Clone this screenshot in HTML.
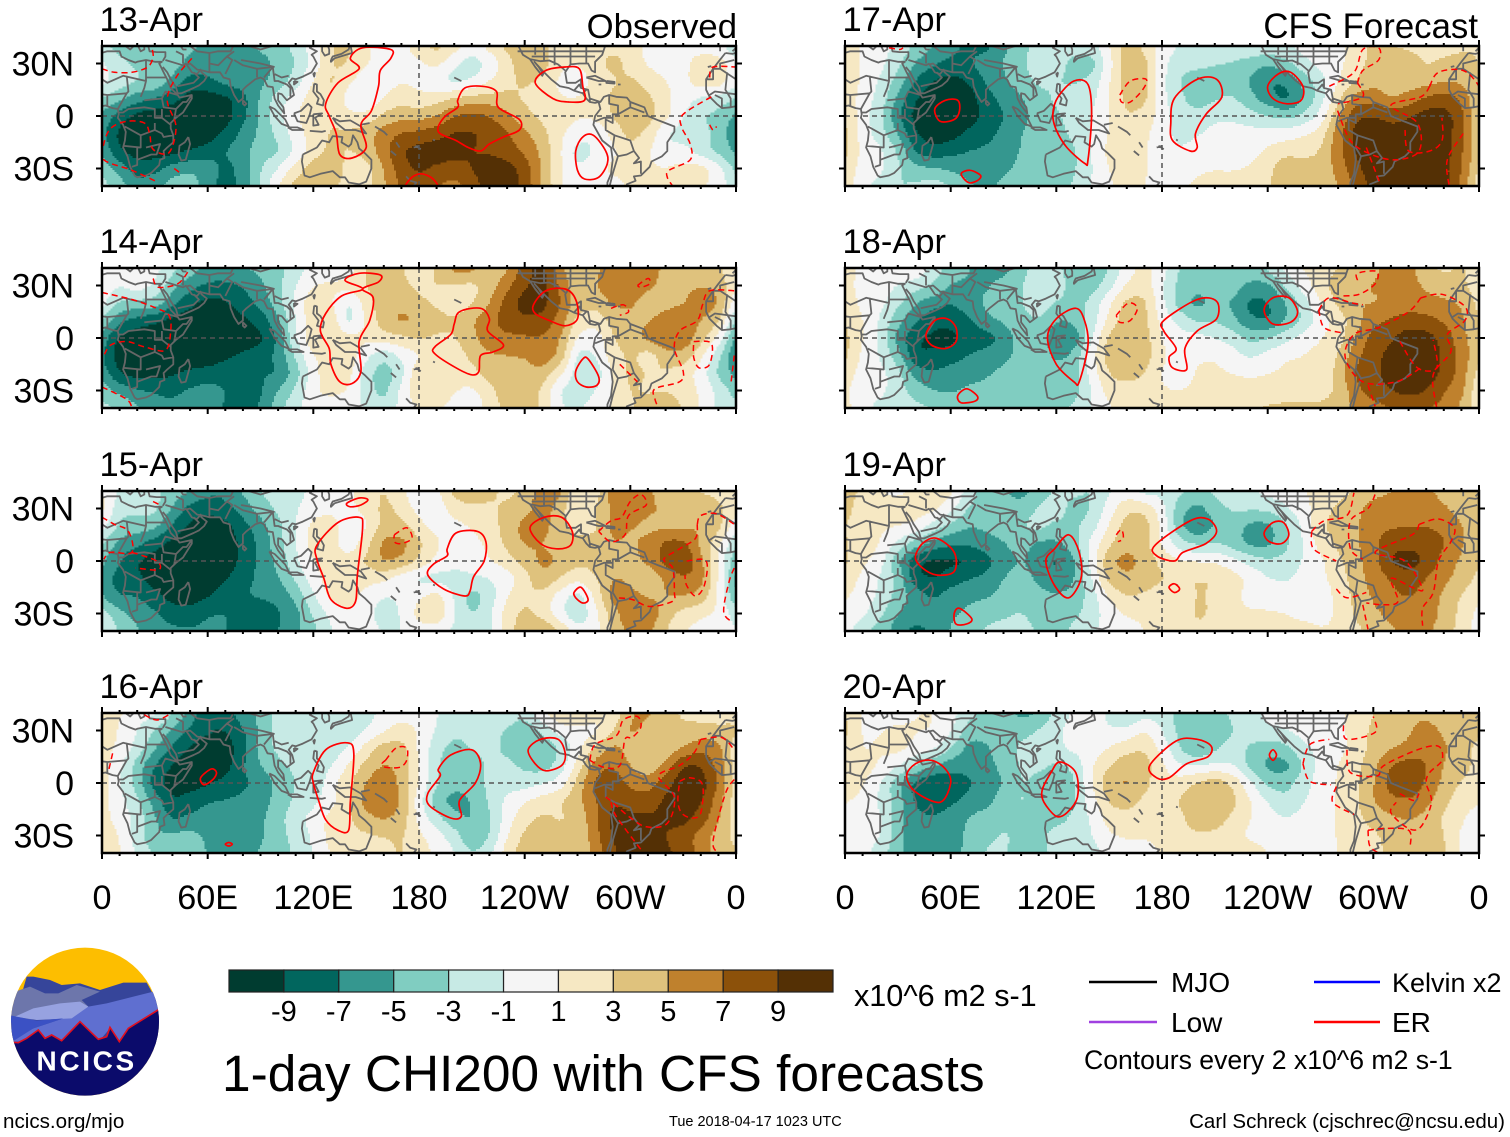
<!DOCTYPE html>
<html lang="en">
<head>
<meta charset="utf-8">
<title>1-day CHI200 with CFS forecasts</title>
<style>
html,body{margin:0;padding:0;background:#fff;}
svg{display:block;}
text{font-family:"Liberation Sans",Arial,sans-serif;fill:#000;}
</style>
</head>
<body>
<svg id="chart" xmlns="http://www.w3.org/2000/svg" width="1510" height="1137" viewBox="0 0 1510 1137">
<defs>
<clipPath id="logo-clip"><circle cx="255" cy="245" r="222"/></clipPath>
</defs>
<rect x="0" y="0" width="1510" height="1137" fill="#fff"/>
<g id="panels"></g>
<text x="737" y="38" font-size="34.7" text-anchor="end">Observed</text>
<text x="1478" y="38" font-size="34.8" text-anchor="end">CFS Forecast</text>
<g id="colorbar"></g>
<text x="854" y="1006" font-size="30.6">x10^6 m2 s-1</text>
<text x="222" y="1091" font-size="51.4">1-day CHI200 with CFS forecasts</text>
<g>
<line x1="1089" y1="982" x2="1157" y2="982" stroke="#000" stroke-width="2.5"/>
<text x="1171" y="992" font-size="28">MJO</text>
<line x1="1314" y1="982" x2="1380" y2="982" stroke="#0000ff" stroke-width="2.5"/>
<text x="1392" y="992" font-size="27">Kelvin x2</text>
<line x1="1089" y1="1022" x2="1157" y2="1022" stroke="#a040e0" stroke-width="2.5"/>
<text x="1171" y="1032" font-size="28">Low</text>
<line x1="1314" y1="1022" x2="1380" y2="1022" stroke="#ff0000" stroke-width="2.5"/>
<text x="1392" y="1032" font-size="28">ER</text>
<text x="1084" y="1069" font-size="26.6">Contours every 2 x10^6 m2 s-1</text>
</g>
<g transform="translate(0,940) scale(0.33333)">
<g clip-path="url(#logo-clip)">
<rect x="20" y="10" width="480" height="480" fill="#FDBE00"/>
<polygon fill="#36459a" points="80,110 100,110 150,120 185,135 240,130 300,150 370,128 440,128 480,200 480,320 20,320"/>
<polygon fill="#6d76ab" points="25,230 45,155 90,140 135,160 175,160 230,135 300,155 245,180 265,200 200,235 25,240"/>
<polygon fill="#5f6fd0" points="265,200 320,190 400,170 460,155 490,200 470,210 390,265 360,305 330,265 300,300 240,245 185,305 40,305 50,290 100,265 190,235"/>
<polygon fill="#97a2e0" points="45,230 100,205 180,190 240,185 265,200 215,235 110,240"/>
<polygon fill="#3b51c4" points="25,225 110,242 190,235 100,265 45,300 25,305"/>
<polygon fill="#0b0b6b" points="25,308 55,308 80,295 115,270 135,295 155,285 185,302 240,245 295,298 320,290 330,262 358,305 385,265 490,200 490,480 20,480"/>
<polyline fill="none" stroke="#e01020" stroke-width="5" points="25,306 55,308 80,295 115,270 135,295 155,285 185,302 240,245 295,298 320,290 330,262 358,305 385,265 490,200"/>
</g>
<text x="260" y="392" font-size="84" font-weight="bold" text-anchor="middle" letter-spacing="8" style="fill:#fff">NCICS</text>
</g>
<text x="3" y="1128" font-size="20.6">ncics.org/mjo</text>
<text x="669" y="1126" font-size="14.5">Tue 2018-04-17 1023 UTC</text>
<text x="1505" y="1128" font-size="20.5" text-anchor="end">Carl Schreck (cjschrec@ncsu.edu)</text>
</svg>
<script>
const bandLevels=[-9,-7,-5,-3,-1,1,3,5,7,9];
const bandColors=["#003c30","#01665e","#35978f","#80cdc1","#c7eae5","#f5f5f5","#f6e8c3","#dfc27d","#bf812d","#8c510a","#543005"];
const barLabels=["-9","-7","-5","-3","-1","1","3","5","7","9"];
const lonTicks=[0,60,120,180,240,300,360];
const lonTickLabels=["0","60E","120E","180","120W","60W","0"];
const latTicks=[30,0,-30];
const latTickLabels=["30N","0","30S"];
const dayLabels=["13-Apr","14-Apr","15-Apr","16-Apr","17-Apr","18-Apr","19-Apr","20-Apr"];

/* CHI200 anomaly: rows 40N..40S every 10 deg, columns 0..350E every 10 deg */
const chi13Apr=[
[-2,-4,-4,-4,-4,-4,-5,-6,-5,-4,-3,-2,0,3,3,1,0,0,2,4,2,0,2,3,5,3,1,1,2,2,2,0,0,0,0,-1],
[-1,-2,-3,-3,-3,-5,-5,-4,-5,-6,-4,-3,-1,3,3,1,0,0,0,2,-1,-3,-1,1,5,4,1,1,2,4,2,0,0,0,2,3],
[0,-1,-2,-1,-5,-8,-7,-5,-5,-5,-4,-2,1,4,1,-1,0,1,0,-1,-3,-1,1,2,3,2,0,-1,1,2,3,2,1,0,3,3],
[-3,-4,-6,-7,-8,-10,-10,-10,-8,-4,-1,0,2,3,-1,-2,1,2,1,2,3,3,3,3,2,1,1,1,2,3,4,3,1,0,-2,-2],
[-5,-8,-10,-10,-10,-10,-10,-10,-7,-4,-1,1,2,3,1,1,3,4,3,4,7,8,7,5,3,2,2,1,1,3,4,4,2,-1,-3,-3],
[-6,-10,-10,-10,-10,-10,-10,-8,-6,-4,-2,0,2,3,3,4,6,7,7,8,9,9,8,7,5,3,1,0,-1,1,4,2,-2,-2,-1,-3],
[-5,-9,-10,-10,-10,-9,-8,-6,-5,-3,-4,-1,1,3,2,3,6,9,10,10,10,8,8,7,6,4,1,-3,-1,0,2,1,-1,0,-3,-4],
[-3,-5,-8,-7,-5,-4,-4,-8,-6,-2,-1,2,4,6,1,1,4,8,9,8,7,9,10,10,8,4,1,-1,1,2,1,1,1,2,3,1],
[-2,-3,-6,-5,-3,-3,-6,-8,-6,-2,1,4,4,3,1,2,4,7,8,6,5,7,10,10,8,4,1,-1,-1,0,1,2,1,1,1,0]];
const chi14Apr=[
[0,0,1,0,-2,-3,-5,-5,-4,-4,-3,-2,0,-1,-1,3,4,3,0,3,6,6,3,3,8,10,5,1,4,6,6,5,4,4,4,3],
[0,-1,1,-1,-4,-6,-7,-7,-7,-5,-3,-1,1,2,2,3,4,3,2,3,2,1,3,6,8,10,6,2,5,6,7,5,4,4,4,5],
[-1,-3,-3,-2,-6,-8,-10,-9,-7,-6,-3,0,3,1,-3,2,4,4,2,2,0,2,4,8,10,10,7,3,3,5,5,2,4,4,6,6],
[-4,-6,-8,-9,-10,-10,-10,-10,-9,-8,-5,-1,2,3,-4,1,4,6,5,4,3,5,6,8,8,8,6,1,1,3,4,4,5,6,4,4],
[-6,-10,-10,-10,-10,-10,-10,-10,-10,-10,-7,0,3,3,2,2,2,2,3,2,2,4,6,6,6,6,5,0,-1,3,4,6,8,7,3,1],
[-7,-10,-10,-10,-10,-10,-10,-9,-8,-7,-6,-2,1,1,2,-1,-3,-1,0,1,1,3,4,4,4,7,5,-3,-1,2,3,-1,3,4,1,-2],
[-5,-10,-10,-10,-9,-8,-8,-7,-7,-6,-8,-4,0,3,2,-2,-5,-2,4,2,1,2,4,5,3,4,1,-2,-3,1,4,3,3,1,0,-4],
[-3,-5,-6,-6,-7,-6,-5,-6,-9,-7,-4,-2,1,2,1,-2,-4,0,3,2,1,0,1,5,5,2,-2,-2,-1,1,3,1,2,2,1,-1],
[-2,-2,-4,-6,-6,-5,-4,-7,-9,-6,-3,-1,0,-1,-1,0,-3,0,1,1,0,0,1,3,5,2,-1,-1,0,1,2,5,5,2,1,-2]];
const chi15Apr=[
[1,-1,-3,-2,-3,-4,-6,-6,-4,-2,-2,-2,0,0,0,2,3,1,-1,0,4,4,3,2,2,7,6,0,1,6,7,5,2,3,2,2],
[2,-3,-2,-1,-5,-8,-8,-7,-6,-3,-2,-1,0,0,1,1,4,2,0,-1,2,2,2,3,3,6,3,-1,3,5,7,5,5,4,4,3],
[0,-3,-3,-3,-7,-9,-10,-10,-7,-6,-3,-1,2,3,-2,0,3,3,1,0,0,1,2,3,6,6,3,2,1,6,4,3,3,3,5,4],
[-3,-6,-6,-8,-10,-10,-10,-10,-8,-6,-3,-1,2,2,-2,2,6,6,3,1,0,0,1,3,5,4,3,3,3,5,4,5,8,8,3,1],
[-5,-6,-9,-10,-10,-10,-10,-10,-8,-6,-4,-1,1,2,2,3,6,5,3,1,0,0,1,2,3,6,5,3,3,4,4,5,8,10,5,1],
[-6,-8,-8,-10,-10,-10,-10,-9,-7,-6,-5,-2,0,2,2,1,1,-2,-3,-3,-2,-1,-1,-1,1,5,2,1,2,5,4,1,4,6,6,1],
[-6,-7,-6,-8,-10,-10,-9,-7,-6,-6,-6,-4,-1,2,2,0,-1,0,1,3,-1,-5,-2,1,3,2,0,-3,1,7,5,4,5,5,4,1],
[-1,-4,-5,-6,-7,-8,-6,-6,-8,-8,-7,-6,-2,-1,1,0,-3,-1,2,4,-1,-3,-1,2,3,1,-1,-4,0,3,7,7,3,1,1,1],
[0,-3,-4,-6,-6,-6,-6,-6,-8,-9,-6,-5,-3,-1,1,0,-1,-1,0,-1,-1,-3,-2,2,4,6,3,0,0,3,5,5,2,1,0,-1]];
const chi16Apr=[
[2,1,0,0,-2,-5,-9,-7,-5,-4,-2,0,-2,-2,-2,-2,0,0,0,-1,-1,-2,0,-1,-2,1,3,3,2,0,5,5,3,2,2,1],
[4,0,-1,-3,-5,-7,-8,-9,-7,-4,-2,-1,-2,-3,-3,-1,0,2,1,-1,-2,-2,-2,-3,-6,-2,0,0,-1,2,6,4,3,3,3,3],
[0,1,-1,-4,-7,-9,-10,-10,-8,-3,-2,-1,-2,-2,-1,2,4,4,0,-2,-4,-2,-2,-3,-3,-5,-3,0,3,6,3,2,2,4,6,6],
[1,0,-4,-7,-9,-10,-10,-10,-6,-4,-3,-2,-3,-1,1,3,5,4,1,-3,-4,-4,-2,-2,-3,-4,-2,1,6,7,4,2,5,10,9,6],
[1,-1,-3,-9,-10,-10,-9,-8,-7,-7,-4,-2,-3,1,2,5,6,4,1,-2,-4,-3,-2,-2,-2,-1,-1,3,8,8,6,5,8,10,10,7],
[1,0,-2,-5,-9,-7,-6,-6,-6,-5,-4,-2,-2,0,2,6,7,5,-1,-5,-6,-5,-2,0,1,2,3,4,6,9,7,7,9,10,9,5],
[1,0,-1,-4,-8,-6,-6,-6,-6,-5,-3,-1,0,2,2,4,5,4,0,-2,-4,-5,-3,0,2,3,2,2,6,10,9,9,9,10,8,5],
[2,1,-2,-5,-4,-3,-5,-6,-6,-5,-3,-2,-1,2,2,2,2,3,1,0,-1,-6,-3,1,3,4,3,2,6,9,10,9,8,7,5,3],
[3,1,-1,-3,-2,-2,-5,-6,-5,-4,-4,-2,-1,1,2,2,2,3,2,0,0,-3,-1,2,4,4,3,2,5,8,10,10,9,8,6,3]];
const chi17Apr=[
[3,0,0,-1,-3,-4,-6,-7,-8,-5,-3,-2,-2,-1,-2,1,4,2,0,-1,-1,0,-1,0,-1,-1,0,0,0,2,3,2,2,2,2,2],
[3,0,0,-2,-5,-6,-7,-6,-5,-4,-3,-1,-1,-4,-5,0,4,4,-1,-2,-2,-3,-3,-4,-5,-3,-1,0,0,2,3,5,4,2,3,3],
[3,0,-1,-3,-7,-9,-10,-9,-6,-5,-3,-2,-3,-3,-2,1,4,4,-1,-3,-4,-3,-3,-5,-7,-7,-4,-2,1,2,4,3,3,3,4,4],
[1,0,-1,-5,-9,-10,-10,-10,-7,-6,-5,-3,-2,-1,-2,1,3,4,-1,-2,-4,-3,-2,-4,-6,-9,-5,-2,2,6,6,3,5,7,8,7],
[2,0,-2,-7,-10,-10,-10,-10,-8,-7,-5,-4,-3,-2,-1,1,3,2,0,-2,-2,-1,-1,-2,-2,-3,-2,-1,4,9,9,8,9,10,10,8],
[2,0,-2,-4,-9,-10,-10,-8,-7,-6,-4,-4,-3,-2,-1,1,2,1,0,-2,-1,0,0,0,0,0,1,1,6,10,10,9,9,10,10,7],
[3,0,0,-2,-8,-8,-7,-6,-6,-6,-4,-4,-4,-3,-1,2,2,1,0,-1,0,0,0,0,1,2,2,2,6,9,10,10,10,10,10,7],
[1,0,0,-2,-4,-4,-5,-6,-6,-5,-4,-4,-4,-3,-1,1,2,1,0,0,1,1,1,1,2,5,3,3,5,8,10,10,10,10,9,7],
[1,0,-2,-3,-2,-1,-2,-4,-5,-4,-2,-4,-4,-2,-1,1,1,1,0,1,1,1,1,1,2,4,3,3,4,7,9,10,10,10,10,6]];
const chi18Apr=[
[2,0,0,0,2,-2,-3,-4,-6,-6,-3,-2,-2,-4,-4,-3,0,2,0,-3,-4,-3,-4,-3,-2,0,1,2,2,4,4,5,6,2,2,3],
[1,0,0,-1,-2,-2,-5,-5,-5,-3,-3,0,-1,-4,-4,-2,1,2,-1,-3,-4,-2,-3,-5,-6,-2,0,2,4,4,5,4,6,4,3,3],
[2,0,0,-2,-5,-6,-7,-5,-4,-3,-3,-1,-3,-3,-2,1,4,4,-1,-4,-7,-4,-5,-8,-7,-5,-2,1,3,5,4,4,5,5,5,5],
[2,1,-1,-4,-6,-8,-8,-7,-4,-4,-3,-2,-5,-4,-2,1,4,3,0,-1,-3,-2,-4,-7,-8,-5,-3,0,1,3,6,7,8,7,6,5],
[3,1,-1,-6,-9,-9,-10,-8,-9,-7,-3,-3,-7,-8,-1,4,4,4,0,0,0,-1,-1,-3,-2,-1,0,1,1,5,8,8,10,10,8,5],
[3,0,-1,-3,-10,-8,-8,-6,-5,-5,-4,-3,-5,-4,1,4,4,4,1,0,1,1,0,-2,0,1,1,2,2,6,8,9,10,10,8,6],
[1,0,0,-1,-6,-6,-5,-5,-5,-4,-3,-3,-4,-4,0,3,4,3,0,0,1,1,1,1,1,1,1,0,3,8,8,9,10,10,8,6],
[0,0,0,-2,-3,-5,-5,-4,-4,-3,-3,-4,-4,-4,-1,2,1,1,1,1,1,2,1,1,1,2,2,2,2,6,8,9,10,9,6,6],
[1,0,-2,-2,-2,-2,-3,-4,-4,-3,-3,-3,-3,-2,-1,1,1,1,1,1,1,1,1,3,3,3,3,3,3,5,5,6,6,6,6,4]];
const chi19Apr=[
[4,2,1,0,1,2,2,-2,-4,-4,-6,-4,-2,-2,-3,-1,0,-3,-1,-2,-3,-2,-1,-1,0,0,1,1,2,2,4,4,5,5,3,2],
[4,1,1,2,2,2,0,-3,-3,-4,-4,-2,-1,-4,-3,0,3,3,0,-4,-6,-3,-2,-2,-2,-1,0,2,3,4,6,5,6,7,5,3],
[2,1,1,1,1,-2,-3,-5,-4,-3,-2,-1,-3,-3,-2,1,4,4,1,-5,-8,-5,-3,-6,-6,-3,-1,3,3,4,6,6,6,6,6,5],
[2,3,1,-1,-3,-5,-6,-6,-5,-5,-3,-6,-5,-3,0,2,4,3,0,-2,-3,-2,-4,-6,-6,-3,-1,2,3,4,6,8,8,8,7,5],
[3,1,0,-5,-10,-10,-10,-10,-8,-6,-4,-6,-8,-6,0,5,6,4,2,1,1,1,0,-1,-2,-2,-1,0,2,4,5,10,10,9,5,4],
[2,0,-1,-2,-9,-9,-7,-6,-6,-4,-3,-5,-6,-5,-1,4,4,4,3,3,3,3,2,1,-1,-1,0,1,1,4,5,6,8,6,5,4],
[1,0,-1,-3,-5,-7,-5,-5,-5,-4,-3,-4,-4,-4,-2,1,3,2,1,0,3,2,1,0,0,0,-2,0,1,3,5,6,7,5,4,2],
[0,0,-2,-5,-5,-6,-5,-4,-3,-3,-2,-4,-4,-3,-2,0,1,1,1,1,4,2,1,1,1,1,0,0,1,3,4,5,6,6,4,2],
[0,-3,-3,-6,-8,-6,-4,-3,-2,-2,-1,-3,-3,-2,-1,0,0,1,1,1,2,2,2,2,2,2,2,1,1,2,3,4,5,5,3,2]];
const chi20Apr=[
[3,0,0,-1,1,1,0,-2,-3,-3,-6,-5,-2,-1,2,-2,-3,-2,-1,-4,-4,-3,-2,-2,0,0,0,0,0,2,2,4,4,4,3,3],
[4,0,1,2,1,1,0,-4,-4,-3,-3,-2,-1,0,0,-1,-1,2,-1,-3,-4,-4,-3,-1,-1,-1,0,0,0,2,3,4,4,6,4,3],
[2,0,1,2,0,0,-2,-6,-5,-3,-2,-2,-1,0,0,1,2,3,0,-3,-6,-3,-1,-3,-4,-3,-1,0,0,1,3,4,4,6,5,3],
[2,2,1,0,-2,-4,-6,-6,-5,-4,-2,-2,-3,-3,1,2,4,4,1,-1,-1,-1,-1,-4,-6,-7,-3,0,1,2,4,7,8,7,4,3],
[3,1,-1,-5,-9,-10,-8,-7,-6,-5,-2,-3,-5,-3,1,5,6,3,1,2,3,5,3,0,-3,-3,-1,0,1,2,4,8,10,6,4,2],
[1,0,-1,-3,-7,-8,-7,-6,-6,-3,-2,-3,-6,-3,0,3,3,2,1,3,4,5,3,1,-1,-3,-1,0,1,2,5,6,6,5,3,1],
[0,0,0,-4,-6,-6,-5,-4,-3,-3,-3,-2,-3,-2,-1,2,2,2,1,2,4,4,2,1,0,-1,0,0,1,2,3,4,5,4,2,1],
[0,0,0,-4,-6,-7,-6,-4,-3,-2,-3,-3,-2,-2,-1,1,1,1,1,2,2,2,1,0,0,0,0,0,1,2,2,3,3,3,3,0],
[0,0,-2,-4,-6,-7,-5,-4,-2,-2,-4,-3,-2,-2,-2,0,0,0,1,2,2,1,2,2,1,0,0,0,1,1,2,3,4,5,3,0]];

/* ER contours, [lon,lat] pairs */
const solid13=[
[[141,33],[148,39],[164,38],[164,33],[158,26],[157,17],[153,3],[147,-5],[150,-18],[142,-24],[135,-22],[133,-10],[129,0],[127,7],[134,19],[146,27]],
[[202,9],[206,16],[216,17],[224,14],[225,5],[237,-2],[237,-8],[228,-12],[220,-16],[215,-20],[208,-18],[201,-14],[191,-9],[194,-1],[202,5]],
[[246,19],[252,26],[263,28],[271,27],[273,17],[274,9],[265,8],[256,10]],
[[269,-20],[273,-12],[279,-11],[286,-20],[287,-27],[282,-35],[274,-36],[270,-31]],
[[173,-42],[175,-36],[181,-33],[188,-36],[190,-42]]];
const dashed13=[
[[0,27],[7,25],[17,25],[26,28],[29,34],[28,40]],
[[51,33],[42,22],[37,9],[42,-6],[38,-21],[29,-19],[27,-10],[24,-4],[14,-3],[5,-7],[1,-16],[1,-25],[17,-31],[32,-38]],
[[41,-30],[45,-33]],
[[346,11],[330,1],[329,-6],[334,-16],[334,-25],[322,-31],[321,-35],[324,-40]],
[[345,22],[347,28],[360,28]],
[[345,-5],[347,-8],[349,-6]]];
const solid14=[
[[138,33],[146,37],[158,36],[157,32],[148,28],[154,23],[152,10],[146,-2],[147,-19],[142,-26],[135,-25],[130,-15],[129,-6],[124,4],[127,14],[136,24],[148,28]],
[[200,8],[203,15],[215,17],[220,11],[219,4],[228,-4],[222,-8],[215,-10],[214,-19],[210,-21],[201,-17],[189,-9],[189,-5],[198,2]],
[[245,19],[252,27],[263,28],[269,22],[270,11],[263,7],[254,10],[246,14]],
[[269,-19],[273,-12],[276,-12],[282,-22],[281,-27],[275,-28],[270,-25]]];
const dashed14=[
[[0,26],[17,22],[31,17],[38,13],[39,4],[36,-7],[24,-5],[14,-2],[5,-4],[1,-10]],
[[29,34],[32,29],[43,31],[49,38]],
[[0,-28],[14,-35],[17,-40]],
[[304,30],[310,34],[311,31],[306,29],[304,30]],
[[289,17],[296,19],[299,15],[294,13]],
[[359,27],[345,27],[341,19],[338,10],[328,4],[325,-6],[330,-19],[328,-25],[314,-29],[314,-35],[316,-40]],
[[336,-2],[346,-3],[345,-15],[339,-17],[336,-11],[336,-2]],
[[359,-10],[357,-27]],
[[294,-15],[298,-19],[304,-25]]];
const solid15=[
[[139,33],[146,36],[151,35],[147,32],[141,31]],
[[122,9],[134,22],[146,25],[148,19],[145,-8],[144,-23],[139,-27],[130,-22],[126,-10],[122,1]],
[[196,7],[201,16],[213,17],[218,11],[217,0],[211,-9],[209,-17],[206,-20],[194,-16],[185,-8],[188,-2],[196,3]],
[[243,19],[251,25],[261,25],[267,17],[266,9],[258,7],[249,10]],
[[268,-18],[272,-15],[276,-22],[273,-24],[269,-21]]];
const dashed15=[
[[166,15],[173,19],[176,13],[170,10],[166,11],[166,15]],
[[0,25],[7,21],[15,17],[17,5],[5,5],[1,1]],
[[17,5],[31,0],[32,-5],[19,-4]],
[[29,34],[33,32]],
[[282,17],[289,23],[295,25],[300,34],[306,38],[309,32],[299,26],[297,15],[289,11],[282,17]],
[[338,21],[340,26],[349,27],[359,21]],
[[338,21],[337,13],[328,7],[319,1],[324,-4],[325,-18],[324,-23],[311,-26],[301,-22],[292,-21]],
[[332,0],[343,0],[342,-14],[337,-20],[332,-14],[331,-8]],
[[359,-4],[356,-12],[353,-29],[358,-35]]];
const solid16=[
[[56,3],[62,8],[65,6],[63,2],[58,-1]],
[[70,-35],[72,-34],[74,-35],[72,-36]],
[[120,6],[127,19],[139,23],[143,17],[141,-11],[140,-27],[134,-27],[127,-21],[123,-10],[120,0]],
[[191,8],[198,16],[210,19],[215,11],[212,0],[203,-10],[204,-19],[198,-20],[186,-13],[185,-6],[192,4]],
[[242,19],[249,25],[259,25],[263,17],[261,10],[252,7],[246,11]]];
const dashed16=[
[[161,13],[167,20],[173,20],[173,13],[169,9],[161,9],[159,11],[161,13]],
[[24,39],[31,36],[38,39]],
[[6,17],[4,8]],
[[277,13],[280,22],[292,27],[296,36],[304,38],[306,32],[301,26],[297,25],[294,10],[285,9],[277,13]],
[[340,25],[352,26],[359,19]],
[[340,25],[336,17],[328,10],[316,4],[325,-8],[321,-23],[309,-25],[299,-19],[290,-11],[286,-8]],
[[328,1],[334,3],[341,-1],[340,-17],[335,-20],[329,-17],[327,-10],[328,1]],
[[359,2],[354,-6],[347,-33],[350,-40]],
[[289,-11],[292,-19],[306,-38],[308,-40]]];
const solid17=[
[[51,4],[57,9],[64,9],[65,3],[62,-2],[54,-3]],
[[66,-33],[71,-31],[77,-34],[75,-37],[70,-38]],
[[118,1],[121,11],[130,20],[138,18],[140,1],[138,-25],[136,-27],[126,-18],[120,-8]],
[[187,10],[200,21],[211,21],[214,11],[205,1],[199,-10],[200,-18],[196,-20],[186,-14],[185,-4]],
[[240,17],[246,24],[253,25],[260,17],[259,9],[251,7],[243,10]]];
const dashed17=[
[[156,12],[162,20],[171,21],[169,15],[162,8],[157,8],[156,12]],
[[25,39],[31,38],[33,39]],
[[275,17],[289,25],[294,38],[303,39],[303,32],[294,26],[291,19]],
[[291,19],[294,11],[280,7]],
[[332,17],[337,25],[351,26],[360,17],[360,11]],
[[332,17],[327,11],[310,6],[325,-4],[326,-20],[313,-25],[299,-22],[287,-14],[279,5]],
[[318,-8],[320,-20],[332,-20],[339,-14],[339,-1]],
[[351,-10],[342,-25],[343,-40]],
[[296,-18],[304,-39]]];
const solid18=[
[[46,2],[51,10],[58,11],[63,6],[63,-2],[57,-6],[49,-4]],
[[64,-33],[69,-29],[75,-33],[74,-36],[66,-37]],
[[115,0],[120,11],[131,17],[136,10],[138,-4],[133,-25],[130,-25],[120,-15]],
[[181,10],[200,22],[211,21],[211,11],[200,4],[193,-6],[194,-18],[186,-17],[184,-11],[188,-6],[181,4]],
[[238,16],[243,23],[252,23],[257,15],[253,9],[243,8]]];
const dashed18=[
[[154,13],[161,20],[166,17],[162,10],[156,9],[154,13]],
[[269,16],[275,23],[288,20],[294,19]],
[[269,16],[272,6],[282,3]],
[[291,33],[291,37],[302,38],[301,31],[292,25],[282,24]],
[[327,23],[339,25],[352,18],[352,10],[342,2],[344,-8],[334,-21],[336,-40]],
[[327,23],[320,15],[303,6],[289,2],[284,-11],[294,-25],[313,-25],[327,-17]],
[[315,-2],[325,-17],[336,-17],[334,-1]],
[[297,-27],[301,-39]]];
const solid19=[
[[40,2],[44,10],[52,13],[62,5],[62,-6],[52,-8],[44,-4]],
[[62,-30],[65,-27],[72,-33],[69,-36],[63,-36]],
[[114,0],[119,7],[127,15],[133,5],[134,-10],[127,-21],[119,-14]],
[[176,9],[196,23],[206,24],[211,17],[205,10],[192,5],[187,0],[177,3]],
[[238,16],[243,22],[249,22],[252,15],[248,10],[241,11]],
[[184,-15],[187,-13],[190,-16],[187,-18]]];
const dashed19=[
[[154,15],[157,18],[158,13],[155,11]],
[[265,17],[272,23],[285,26],[289,39]],
[[265,17],[266,7],[279,0]],
[[301,38],[297,30],[287,23],[287,7],[294,1]],
[[326,21],[337,24],[346,19],[344,11],[337,0],[334,-18],[328,-27],[328,-37]],
[[326,21],[322,15],[301,5],[318,0],[328,-16],[322,-15],[310,-10],[314,-23],[306,-25],[296,-24]],
[[279,-16],[285,-21],[296,-18]],
[[294,-25],[297,-39]]];
const solid20=[
[[35,4],[40,11],[49,13],[57,8],[60,0],[54,-11],[40,-5]],
[[112,-4],[117,6],[122,12],[131,6],[132,-8],[126,-17],[120,-19],[113,-11]],
[[173,10],[188,24],[200,25],[208,21],[206,15],[194,11],[184,3],[177,3]],
[[241,16],[243,19],[245,16],[243,13]]];
const dashed20=[
[[260,11],[264,22],[275,25]],
[[260,11],[264,1],[276,-1]],
[[279,-2],[277,-11],[289,-18]],
[[283,33],[285,25],[301,29],[300,38]],
[[285,19],[287,6],[302,4],[306,10],[325,19],[337,21],[339,13],[332,6],[330,0],[333,-11],[327,-25],[320,-26],[310,-17],[313,-11]],
[[315,-6],[323,-10],[326,-6]],
[[297,-27],[298,-36],[303,-40]],
[[297,-27],[306,-26],[320,-27],[321,-36]]];

/* coastlines and borders, [lon,lat]; west longitudes are negative */
const coastLines=[
[[-6,36],[-10,31],[-13,27],[-17,21],[-17,15],[-15,11],[-11,7],[-8,4.5],[-3,5],[2,6],[6,4.5],[9,4],[9.5,1],[9,-1],[12,-5],[13.5,-9],[13,-14],[12,-18],[14.5,-23],[16,-29],[18.5,-34],[20,-35],[25,-34],[28,-32.5],[32.5,-28],[33,-25],[35.5,-24],[35,-20],[37,-18],[40.5,-15],[40.5,-11],[39,-7],[39,-4],[42,-1],[46,2],[51,10],[51,12],[44,10.5],[43,12],[39,16],[37,21],[35,25],[33.5,28],[32.5,30],[34,31],[30,31],[25,32],[20,31],[19,30.5],[15,32],[11,34],[10,37],[3,37],[-2,35.5],[-6,36]],
[[49,-12],[50,-16],[47.5,-25],[45,-25.5],[43.5,-22],[44,-17],[47,-15],[49,-12]],
[[-9,37],[-9,41]],[[0,41],[0,39],[-2,37]],[[12,41],[16,38],[18,40],[17,41]],[[20,41],[22,37],[24,38],[24,41]],
[[26,41],[27,37],[31,36.5],[36,36.5],[36,34],[34.5,31.5]],
[[34.5,28],[37,25],[39,21],[42,16.5],[43,13],[45,13],[52,16],[55,17.5],[58,20],[59.5,22.5],[56.5,25],[56,26.5],[54,24],[51,25],[50,26.5],[48,29.5],[50,30],[54,26.5],[57,26],[61,25],[67,25],[69,22],[72.5,21],[73,17],[75,12],[77.5,8],[80,10],[80,15],[82,17],[87,21],[90,22],[92,21],[94,17],[97,16.5],[98,10],[100,6],[103.5,1.5],[103,5],[100,9],[100,13],[102,12.5],[105,9],[109,12],[108,16],[106,19],[108,21.5],[110,21],[114,22.5],[119,25],[122,30],[120,34],[119,35],[122,37],[118,39],[121,41]],
[[125,41],[125,37],[126.5,34.5],[129,35.5],[129,38],[128,41]],
[[130,32],[131,34],[136,35.5],[140,38],[141,41],[142,36],[137,34.5],[132,33],[130,31],[130,32]],
[[80,9],[82,7],[81,6],[80,7],[80,9]],[[121,25],[120.5,22.5],[120,24],[121,25]],[[109,20],[111,19.5],[109,18],[109,20]],
[[120.5,18.5],[122,18],[122,14],[124,12.5],[126,9],[125.5,6],[122,7],[123,10],[120,14],[120.5,18.5]],
[[95,5.5],[98,4],[104,-2],[106,-6],[102,-4.5],[98,0],[95,5.5]],
[[105.5,-6.5],[111,-6.5],[114.5,-8],[108,-8],[105.5,-6.5]],
[[109,1.5],[113,3],[117,7],[119,5],[118,1],[116,-4],[111,-3],[109,1.5]],
[[120,1],[125,1.5],[121,-1],[123,-5],[120,-5.5],[120,1]],
[[131,-1],[135,-3],[141,-2.5],[147,-6],[150,-10],[144,-8],[138,-8],[133,-4],[131,-1]],
[[118,-8.5],[125,-9],[127,-8.5]],
[[114,-22],[113.5,-26],[115,-34],[118,-35],[124,-33],[131,-31.5],[135,-35],[138,-35],[140,-38],[146,-39],[150,-37.5],[153,-30],[153,-25],[149,-21],[146,-18.5],[145,-15],[142.5,-11],[141.5,-16],[140,-17.5],[136,-15],[136.5,-12],[131,-11.5],[129,-15],[125,-14],[122,-18],[117,-20.5],[114,-22]],
[[172.7,-34.5],[175,-37],[178.5,-38],[176,-41]],
[[164,-20],[167,-22.5]],[[177,-18],[180,-17]],[[155,-6],[160,-9],[162,-11]],[[167,-15],[169,-18]],[[178,-17],[181,-19]],[[147,-5],[152,-4]],
[[-160,22],[-156,20]],[[-171,-14],[-172,-13.5]],
[[-124,41],[-121,35],[-117,32.5],[-114,28],[-110,23],[-109.5,24],[-112,28],[-114.5,31],[-110,26],[-105,21],[-100,17],[-95,16],[-92,14.5],[-87,13],[-85,10],[-83,8],[-80,7.5],[-78,8],[-77,8],[-75,11],[-72,12],[-68,11],[-62,10.5],[-60,8],[-52,5],[-50,0],[-44,-2.5],[-35,-6],[-35,-9],[-39,-15],[-39,-20],[-42,-23],[-48,-26],[-49,-29],[-54,-34],[-58,-34.5],[-57,-37],[-62,-39],[-62,-41]],
[[-78,8],[-77,4],[-80,0],[-81,-5],[-76,-14],[-71,-18],[-70,-25],[-71,-33],[-73,-38],[-73,-41]],
[[-77,8],[-83,10],[-84,15],[-88,16],[-88,21],[-91,19],[-96,19],[-97,25],[-94,29.5],[-89,30],[-84,30],[-82,26],[-80,25],[-80,31],[-76,35],[-74,41]],
[[-85,22],[-80,23],[-74,20],[-78,20],[-85,22]],[[-74,19],[-69,18.5],[-69,19.5],[-73,20],[-74,19]],[[-78,18],[-76.5,18]],[[-67,18],[-65.5,18]],[[-16,28],[-14,28.5]],
[[-9,27],[-9,30],[-1,32]],[[-17,21],[-13,21],[-13,27],[-9,27]],[[-9,27],[3,19],[12,23],[25,20]],[[25,32],[25,20],[24,16],[22,11]],[[25,22],[37,22]],[[14,23],[15,14],[14,13],[9,4]],[[3,12],[3,6]],[[14,13],[3,12],[-12,14],[-15,12]],[[-5,25],[-6,15],[-3,10],[-3,5]],[[-8,4.5],[-8,10],[-12,12]],
[[24,9],[34,10],[36,14],[43,12]],[[34,10],[35,5],[42,4],[46,8],[48,8],[51,12]],[[41,-2],[42,4]],[[34,4],[34,-1],[30,-1],[30,4],[24,5],[15,4],[12,2],[9,2]],[[34,-1],[39,-5]],[[30,-4],[30,-8],[34,-10],[35,-12],[40.5,-11]],[[22,-11],[22,-18],[12,-17]],[[30,-8],[22,-11],[13,-6]],[[20,-18],[20,-28],[17,-29]],[[25,-18],[33,-16],[31,-22],[28,-22],[20,-25]],
[[36,32],[46,29],[48,30]],[[42,37],[46,35],[46,30]],[[44,41],[46,38],[48,38]],[[50,40],[54,37],[61,36],[66,37],[73,37],[75,41]],[[61,36],[61,25]],[[61,30],[66,29],[71,34],[75,37]],[[71,34],[74,32],[70,24]],[[88,27],[80,29],[75,32]],[[97,28],[88,27],[88,22]],[[92,22],[97,28],[98,20],[100,20],[105,18],[107,16],[107,11]],[[98,24],[102,22],[106,23]],[[79,32],[90,30],[98,28]],[[43,17],[52,19],[55,22],[52,25]],[[80,41],[90,38],[100,41]],
[[-117,32.5],[-111,31.3],[-106,31.7],[-101,29.5],[-97,26]],[[-124,37],[-94,37],[-75,37]],[[-116,34],[-80,34]],[[-114,41],[-114,35]],[[-109,41],[-109,31.5]],[[-103,41],[-103,29]],[[-94,41],[-94,29.5]],[[-85,41],[-85,30]],
[[-70,-18],[-69,-11],[-74,-8],[-74,-2],[-70,-4],[-70,1],[-67,1],[-60,5],[-60,8]],[[-72,12],[-72,7],[-67,6],[-67,1]],[[-80,-3],[-75,-1],[-70,-1]],[[-69,-11],[-60,-14],[-58,-20],[-62,-22],[-67,-23],[-70,-18]],[[-58,-20],[-55,-24],[-58,-27],[-54,-26],[-54,-33]],[[-67,-23],[-70,-33],[-72,-41]],[[-60,5],[-52,2]],[[-92,14.5],[-89,18],[-88,16]],[[-85,15],[-87,13]],[[-83,10],[-83,8]]];

const panelData=[
{chi:chi13Apr,solid:solid13,dashed:dashed13},{chi:chi14Apr,solid:solid14,dashed:dashed14},
{chi:chi15Apr,solid:solid15,dashed:dashed15},{chi:chi16Apr,solid:solid16,dashed:dashed16},
{chi:chi17Apr,solid:solid17,dashed:dashed17},{chi:chi18Apr,solid:solid18,dashed:dashed18},
{chi:chi19Apr,solid:solid19,dashed:dashed19},{chi:chi20Apr,solid:solid20,dashed:dashed20}];

const NS='http://www.w3.org/2000/svg';
function mk(parent,tag,attrs,text){
  const e=document.createElementNS(NS,tag);
  for(const k in attrs)e.setAttribute(k,attrs[k]);
  if(text!==undefined)e.textContent=text;
  parent.appendChild(e);
  return e;
}
const panelW=634,panelH=140,colX=[102,845],rowY=[46,268,491,713];
function catmull(t,a,b,c,d){return 0.5*((2*b)+(-a+c)*t+(2*a-5*b+4*c-d)*t*t+(-a+3*b-3*c+d)*t*t*t);}
/* soften the coarse reading grid so band edges come out rounded like the source contours;
   weak values get a small boost so plateaus near +/-1 stay on their intended side of the band edge */
function softenGrid(grid){
  const nr=grid.length,boost=0.18,knee=3;
  return grid.map(function(row,r){
    const n=row.length;
    return row.map(function(_,c){
      let sum=0;
      for(let dr=-1;dr<=1;dr++){
        for(let dc=-1;dc<=1;dc++){
          const w=(dr===0&&dc===0)?0.4:((dr===0||dc===0)?0.1:0.05);
          const rr=grid[Math.max(0,Math.min(nr-1,r+dr))];
          sum+=w*rr[(c+dc+n)%n];
        }
      }
      return sum+boost*Math.max(-knee,Math.min(knee,sum));
    });
  });
}
function sampleChi(grid,lon,lat){
  const nr=grid.length;
  const fx=lon/10,fy=(40-lat)/10;
  const ix=Math.floor(fx),iy=Math.floor(fy),tx=fx-ix,ty=fy-iy;
  const rowVal=function(r){
    const row=grid[Math.max(0,Math.min(nr-1,r))],n=row.length;
    const g=function(i){return row[((i%n)+n)%n];};
    return catmull(tx,g(ix-1),g(ix),g(ix+1),g(ix+2));
  };
  return catmull(ty,rowVal(iy-1),rowVal(iy),rowVal(iy+1),rowVal(iy+2));
}
function bandOf(v){
  let b=0;
  while(b<bandLevels.length&&v>=bandLevels[b])b++;
  return b;
}
function smoothPath(pts,closed,xs,ys){
  const P=pts.map(function(p){return [xs(p[0]),ys(p[1])];});
  const n=P.length;
  let d='M'+P[0][0].toFixed(1)+' '+P[0][1].toFixed(1);
  const at=function(i){return closed?P[(i+n)%n]:P[Math.max(0,Math.min(n-1,i))];};
  const segs=closed?n:n-1;
  for(let i=0;i<segs;i++){
    const p0=at(i-1),p1=at(i),p2=at(i+1),p3=at(i+2);
    d+='C'+(p1[0]+(p2[0]-p0[0])/6).toFixed(1)+' '+(p1[1]+(p2[1]-p0[1])/6).toFixed(1)+' '+(p2[0]-(p3[0]-p1[0])/6).toFixed(1)+' '+(p2[1]-(p3[1]-p1[1])/6).toFixed(1)+' '+p2[0].toFixed(1)+' '+p2[1].toFixed(1);
  }
  return d+(closed?'Z':'');
}
const root=document.getElementById('panels');
const defs=document.querySelector('defs');
panelData.forEach(function(pd,idx){
  const col=idx<4?0:1,row=idx%4;
  const x0=colX[col],y0=rowY[row];
  const xs=function(lon){return x0+lon/360*panelW;};
  const ys=function(lat){return y0+(40-lat)/80*panelH;};
  const clipId='panel-clip-'+idx;
  const cp=mk(defs,'clipPath',{id:clipId});
  mk(cp,'rect',{x:x0,y:y0,width:panelW,height:panelH});
  const g=mk(root,'g',{});
  
  
  const inner=mk(g,'g',{'clip-path':'url(#'+clipId+')'});
  mk(inner,'rect',{x:x0,y:y0,width:panelW,height:panelH,fill:bandColors[5]});
  const paths=bandColors.map(function(){return [];});
  const soft=softenGrid(pd.chi);
  const nLon=317,nLat=70;
  for(let j=0;j<nLat;j++){
    const latT=40-80*j/nLat,latB=40-80*(j+1)/nLat,latC=(latT+latB)/2;
    const yT=ys(latT),h=ys(latB)-yT;
    let runStart=0,runBand=-1;
    for(let i=0;i<=nLon;i++){
      const b=i<nLon?bandOf(sampleChi(soft,360*(i+0.5)/nLon,latC)):-2;
      if(b!==runBand){
        if(runBand>=0){
          const xa=xs(360*runStart/nLon),xb=xs(360*i/nLon);
          paths[runBand].push('M'+xa.toFixed(1)+' '+yT.toFixed(2)+'H'+(xb+0.3).toFixed(1)+'V'+(yT+h+0.3).toFixed(2)+'H'+xa.toFixed(1)+'Z');
        }
        runStart=i;runBand=b;
      }
    }
  }
  paths.forEach(function(parts,b){
    if(!parts.length)return;
    const p=mk(inner,'path',{d:parts.join(''),fill:bandColors[b],'shape-rendering':'crispEdges'});
    
    
  });
  let coast='';
  [0,360].forEach(function(off){
    coastLines.forEach(function(line){
      coast+=line.map(function(pt,k){return (k?'L':'M')+xs(pt[0]+off).toFixed(1)+' '+ys(pt[1]).toFixed(1);}).join('');
    });
  });
  const cl=mk(inner,'path',{d:coast,fill:'none',stroke:'#666','stroke-width':1.8,'stroke-linejoin':'round'});
  
  
  const eq=mk(inner,'line',{x1:xs(0),y1:ys(0),x2:xs(360),y2:ys(0),stroke:'#555','stroke-width':1.5,'stroke-dasharray':'5 4'});
  
  
  const dl=mk(inner,'line',{x1:xs(180),y1:ys(40),x2:xs(180),y2:ys(-40),stroke:'#555','stroke-width':1.5,'stroke-dasharray':'5 4'});
  
  
  pd.solid.forEach(function(c){
    const p=mk(inner,'path',{d:smoothPath(c,true,xs,ys),fill:'none',stroke:'#ff0000','stroke-width':1.7});
    
    
  });
  pd.dashed.forEach(function(c){
    const p=mk(inner,'path',{d:smoothPath(c,false,xs,ys),fill:'none',stroke:'#ff0000','stroke-width':1.5,'stroke-dasharray':'6 4'});
    
    
  });
  const frame=mk(g,'rect',{x:x0,y:y0,width:panelW,height:panelH,fill:'none',stroke:'#000','stroke-width':2.5});
  
  
  let ticks='';
  for(let lon=0;lon<=360;lon+=10){
    const len=lon%60===0?6:3,tx=xs(lon).toFixed(1);
    ticks+='M'+tx+' '+y0+'v'+(-len)+'M'+tx+' '+(y0+panelH)+'v'+len;
  }
  latTicks.forEach(function(lat){
    const ty=ys(lat).toFixed(1);
    ticks+='M'+x0+' '+ty+'h-6M'+(x0+panelW)+' '+ty+'h6';
  });
  const tk=mk(g,'path',{d:ticks,stroke:'#000','stroke-width':2,fill:'none'});
  
  
  const dt=mk(g,'text',{x:x0-2.5,y:y0-15,'font-size':34.5},dayLabels[idx]);
  
  
  if(col===0){
    latTicks.forEach(function(lat,k){
      const t=mk(g,'text',{x:x0-28,y:ys(lat)+12,'font-size':34,'text-anchor':'end'},latTickLabels[k]);
      
      
    });
  }
  if(row===3){
    lonTicks.forEach(function(lon,k){
      const t=mk(g,'text',{x:xs(lon),y:909,'font-size':34.2,'text-anchor':'middle'},lonTickLabels[k]);
      
      
    });
  }
});
const bar=document.getElementById('colorbar');
const barX=229,barY=970,barW=604,barH=22;
bandColors.forEach(function(c,i){
  const w=barW/bandColors.length;
  const r=mk(bar,'rect',{x:barX+i*w,y:barY,width:w,height:barH,fill:c,stroke:'#222','stroke-width':1.2});
  
  
});
barLabels.forEach(function(l,i){
  const w=barW/bandColors.length;
  const t=mk(bar,'text',{x:barX+(i+1)*w,y:1021,'font-size':29,'text-anchor':'middle'},l);
  
  
});
</script>
</body>
</html>
